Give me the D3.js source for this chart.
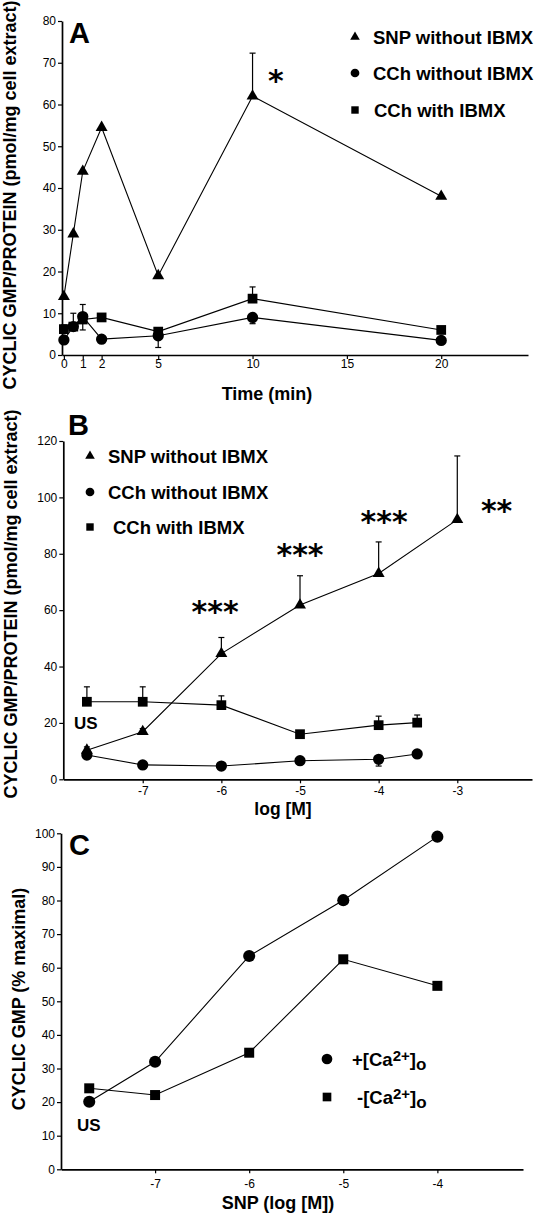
<!DOCTYPE html>
<html>
<head>
<meta charset="utf-8">
<script src="https://cdn.jsdelivr.net/npm/d3@7"></script>
<style>
  body { margin: 0; background: #fff; }
  svg { font-family: "Liberation Sans", Arial, Helvetica, sans-serif; }
</style>
</head>
<body>
<svg width="535" height="1214"></svg>
<script>
// ---- panel A : time course ----
var timeA = [0, 0.5, 1, 2, 5, 10, 20];
var snpA = [14, 29, 44, 54.5, 19, 62, 38];
var snpAUp = [0, 0, 0, 0, 0, 10.3, 0];
var snpADown = [0, 0, 0, 0, 0, 0, 0];
var cchA = [3.6, 6.8, 9.2, 3.8, 4.6, 9, 3.5];
var cchAUp = [0, 0, 2.9, 0, 0, 0, 0];
var cchADown = [0, 0, 3.2, 0, 2.8, 1.5, 0];
var ibmxA = [6.2, 6.8, 8.5, 9, 5.6, 13.5, 6];
var ibmxAUp = [1, 3.2, 0, 0, 0, 2.8, 0];
var ibmxADown = [0, 0, 0, 0, 0, 0, 0];
var starA = [{ x: 11.24, y: 67.3, t: "*" }];
var xTicksA = [0, 1, 2, 5, 10, 15, 20];
var yTicksA = [0, 10, 20, 30, 40, 50, 60, 70, 80];

// ---- panel B : concentration response ----
var logSnpB = [-7.71, -7, -6, -5, -4, -3];
var snpB = [10.3, 16.9, 44.6, 61.8, 73, 92.1];
var snpBUp = [0, 1.1, 5.7, 10.4, 11.2, 22.6];
var logCchB = [-7.71, -7, -6, -5, -4, -3.51];
var cchB = [8.6, 5.1, 4.7, 6.6, 7.1, 9.0];
var cchBUp = [2.9, 0, 0, 0, 0, 0];
var cchBDown = [0, 0, 0, 0, 2.4, 0];
var ibmxB = [27.5, 27.5, 26.3, 16, 19.2, 20.1];
var ibmxBUp = [5.3, 5.3, 3.3, 0, 3.2, 2.7];
var starsB = [{ x: -6.08, y: 61.8, t: "***" }, { x: -5.0, y: 82, t: "***" },
              { x: -3.93, y: 93.6, t: "***" }, { x: -2.5, y: 97.8, t: "**" }];
var xTicksB = [-7, -6, -5, -4, -3];
var yTicksB = [0, 20, 40, 60, 80, 100, 120];

// ---- panel C : SNP with / without extracellular Ca ----
var logC = [-7.7, -7, -6, -5, -4];
var caPlusC = [20.1, 32, 63.5, 80.1, 99];
var caMinusC = [24.1, 22.1, 34.7, 62.5, 54.6];
var xTicksC = [-7, -6, -5, -4];
var yTicksC = [0, 10, 20, 30, 40, 50, 60, 70, 80, 90, 100];

var svg = d3.select("svg");

var series = function (xs, ys, up, down, shape, size) {
  return xs.map(function (x, i) {
    return { x: x, y: ys[i], up: up ? up[i] : 0, down: down ? down[i] : 0, shape: shape, size: size };
  });
};

var drawAxes = function (x, y, xTicks, yTicks, pad) {
  var gx = svg.append("g")
    .attr("transform", "translate(0," + y.range()[0] + ")")
    .call(d3.axisBottom(x).tickValues(xTicks).tickSize(4).tickSizeOuter(0).tickPadding(pad)
      .tickFormat(function (d) { return String(d); }));
  var gy = svg.append("g")
    .attr("transform", "translate(" + x.range()[0] + ",0)")
    .call(d3.axisLeft(y).tickValues(yTicks).tickSize(4).tickSizeOuter(0).tickPadding(2));
  [gx, gy].forEach(function (g) {
    g.select(".domain").attr("stroke", "#000").attr("stroke-width", 1.7);
    g.selectAll(".tick line").attr("stroke", "#000").attr("stroke-width", 1.2);
    g.selectAll(".tick text").attr("fill", "#000").attr("font-size", 12)
      .attr("font-family", "Liberation Sans, Arial, sans-serif");
  });
};

var drawSeries = function (x, y, data) {
  var line = d3.line().x(function (d) { return x(d.x); }).y(function (d) { return y(d.y); });
  svg.append("path").datum(data)
    .attr("d", line).attr("fill", "none").attr("stroke", "#000").attr("stroke-width", 1.1);

  var err = svg.append("g").attr("stroke", "#000").attr("stroke-width", 1.2);
  data.forEach(function (d) {
    if (d.up > 0) {
      err.append("line").attr("x1", x(d.x)).attr("x2", x(d.x)).attr("y1", y(d.y)).attr("y2", y(d.y + d.up));
      err.append("line").attr("x1", x(d.x) - 3).attr("x2", x(d.x) + 3).attr("y1", y(d.y + d.up)).attr("y2", y(d.y + d.up));
    }
    if (d.down > 0) {
      err.append("line").attr("x1", x(d.x)).attr("x2", x(d.x)).attr("y1", y(d.y)).attr("y2", y(d.y - d.down));
      err.append("line").attr("x1", x(d.x) - 3).attr("x2", x(d.x) + 3).attr("y1", y(d.y - d.down)).attr("y2", y(d.y - d.down));
    }
  });

  svg.append("g").selectAll("path").data(data).enter().append("path")
    .attr("d", function (d) { return d3.symbol().type(d.shape).size(d.size)(); })
    .attr("transform", function (d) { return "translate(" + x(d.x) + "," + y(d.y) + ")"; })
    .attr("fill", "#000");
};

var drawStars = function (x, y, stars) {
  // asterisks are centred on (x, y): shift the baseline down by about half the glyph
  svg.append("g").selectAll("text").data(stars).enter().append("text")
    .attr("x", function (d) { return x(d.x); })
    .attr("y", function (d) { return y(d.y) + 17; })
    .attr("text-anchor", "middle").attr("font-size", 30).attr("font-weight", "bold")
    .attr("font-family", "DejaVu Sans, sans-serif")
    .text(function (d) { return d.t; });
};

var legendItem = function (cx, cy, shape, size, label, tx) {
  svg.append("path").attr("d", d3.symbol().type(shape).size(size)())
    .attr("transform", "translate(" + cx + "," + cy + ")").attr("fill", "#000");
  svg.append("text").attr("x", tx).attr("y", cy + 6.5)
    .attr("font-size", 18.5).attr("font-weight", "bold").text(label);
};

var boldText = function (x, y, size, txt, anchor) {
  return svg.append("text").attr("x", x).attr("y", y).attr("font-size", size)
    .attr("font-weight", "bold").attr("text-anchor", anchor || "start").text(txt);
};

var yTitle = function (x, cy, txt) {
  svg.append("text").attr("transform", "translate(" + x + "," + cy + ") rotate(-90)")
    .attr("text-anchor", "middle").attr("font-size", 18).attr("font-weight", "bold").text(txt);
};

// ================= A =================
var xA = d3.scaleLinear().domain([-0.1, 24.6]).range([62, 528]);
var yA = d3.scaleLinear().domain([0, 80]).range([355, 21]);
drawAxes(xA, yA, xTicksA, yTicksA, 0);
drawSeries(xA, yA, series(timeA, snpA, snpAUp, snpADown, d3.symbolTriangle, 62));
drawSeries(xA, yA, series(timeA, cchA, cchAUp, cchADown, d3.symbolCircle, 100));
drawSeries(xA, yA, series(timeA, ibmxA, ibmxAUp, ibmxADown, d3.symbolSquare, 95));
boldText(69, 43, 29, "A");
drawStars(xA, yA, starA);
legendItem(355, 37, d3.symbolTriangle, 40, "SNP without IBMX", 373);
legendItem(355, 73, d3.symbolCircle, 60, "CCh without IBMX", 373);
legendItem(355, 110, d3.symbolSquare, 55, "CCh with IBMX", 374);
yTitle(16, 195, "CYCLIC GMP/PROTEIN (pmol/mg cell extract)");
boldText(267, 400, 18, "Time (min)", "middle");

// ================= B =================
var xB = d3.scaleLinear().domain([-8.01, -2.05]).range([63.3, 532]);
var yB = d3.scaleLinear().domain([0, 120]).range([779.3, 441]);
drawAxes(xB, yB, xTicksB, yTicksB, 3);
drawSeries(xB, yB, series(logSnpB, snpB, snpBUp, null, d3.symbolTriangle, 62));
drawSeries(xB, yB, series(logCchB, ibmxB, ibmxBUp, null, d3.symbolSquare, 95));
drawSeries(xB, yB, series(logCchB, cchB, cchBUp, cchBDown, d3.symbolCircle, 100));
boldText(68, 435, 29, "B");
drawStars(xB, yB, starsB);
legendItem(90, 456, d3.symbolTriangle, 40, "SNP without IBMX", 108);
legendItem(90, 492, d3.symbolCircle, 60, "CCh without IBMX", 108);
legendItem(90, 527, d3.symbolSquare, 55, "CCh with IBMX", 113);
boldText(74, 729, 17, "US");
yTitle(17, 604, "CYCLIC GMP/PROTEIN (pmol/mg cell extract)");
boldText(283, 815, 17.5, "log [M]", "middle");

// ================= C =================
var xC = d3.scaleLinear().domain([-8.0, -3.09]).range([61, 523]);
var yC = d3.scaleLinear().domain([0, 100]).range([1169.3, 833.3]);
drawAxes(xC, yC, xTicksC, yTicksC, 6);
drawSeries(xC, yC, series(logC, caPlusC, null, null, d3.symbolCircle, 115));
drawSeries(xC, yC, series(logC, caMinusC, null, null, d3.symbolSquare, 100));
boldText(69, 855, 29, "C");
boldText(77, 1131, 17, "US");

var caLabel = function (cx, cy, shape, size, sign, tx) {
  svg.append("path").attr("d", d3.symbol().type(shape).size(size)())
    .attr("transform", "translate(" + cx + "," + cy + ")").attr("fill", "#000");
  var t = svg.append("text").attr("x", tx).attr("y", cy + 6.5)
    .attr("font-size", 18.5).attr("font-weight", "bold");
  t.append("tspan").text(sign + "[Ca");
  t.append("tspan").attr("dy", -5).attr("font-size", 15).text("2+");
  t.append("tspan").attr("dy", 5).text("]");
  t.append("tspan").attr("dy", 4).attr("font-size", 17).text("o");
};
caLabel(327, 1059, d3.symbolCircle, 90, "+", 352);
caLabel(327, 1097, d3.symbolSquare, 75, "-", 357);
yTitle(25, 999, "CYCLIC GMP (% maximal)");
boldText(278, 1209, 18, "SNP (log [M])", "middle");
</script>
</body>
</html>
